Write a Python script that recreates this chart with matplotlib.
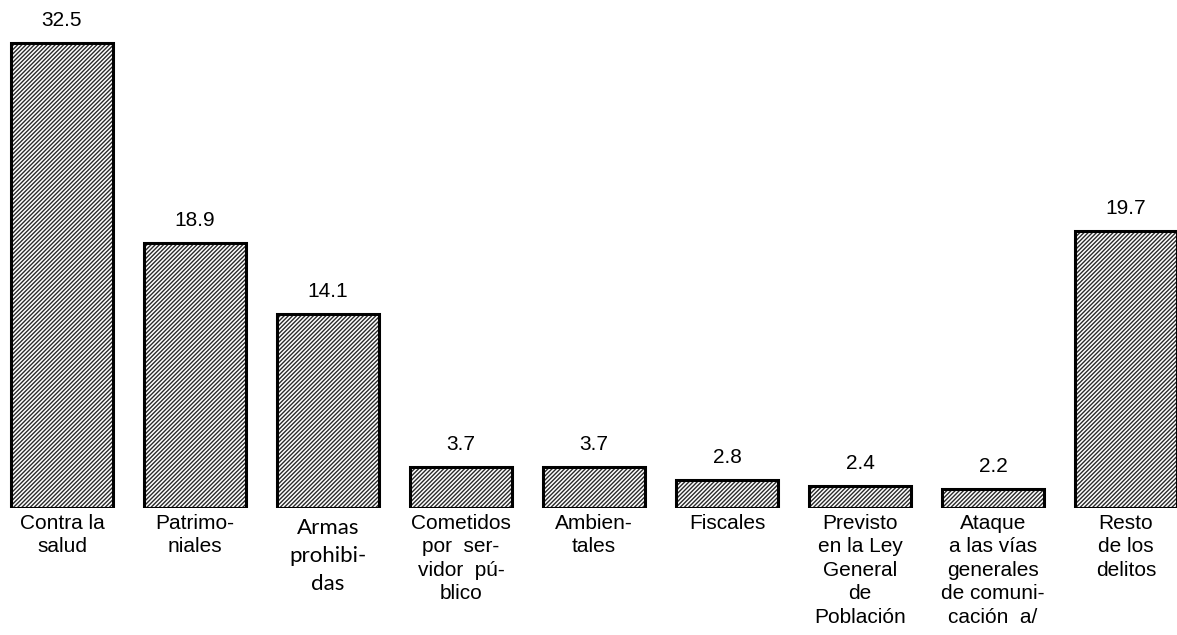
import matplotlib.pyplot as plt
import numpy as np

#  Data 
categories = [
    "Contra la\nsalud",
    "Patrimo-\nniales",
    "Armas\nprohibi-\ndas",
    "Cometidos\npor  ser-\nvidor  pú-\nblico",
    "Ambien-\ntales",
    "Fiscales",
    "Previsto\nen la Ley\nGeneral\nde\nPoblación",
    "Ataque\na las vías\ngenerales\nde comuni-\ncación  a/",
    "Resto\nde los\ndelitos",
]
values = [32.5, 18.9, 14.1, 3.7, 3.7, 2.8, 2.4, 2.2, 19.7]
value_labels = ["32.5", "18.9", "14.1", "3.7", "3.7", "2.8", "2.4", "2.2", "19.7"]

#  Style 
plt.rcParams["font.family"] = ["Liberation Sans", "DejaVu Sans"]
plt.rcParams["hatch.linewidth"] = 1.0
plt.rcParams["hatch.color"] = "#2a2a2a"

base = 0.91
x = np.arange(len(values))

fig = plt.figure(figsize=(11.77, 6.35), dpi=100)
ax = fig.add_axes([0, 0.2, 1, 0.8])

heights = [v - base for v in values]
# hatched fill, then the black outline on top
ax.bar(x, heights, bottom=base, width=0.77, color="white",
       edgecolor="#2a2a2a", linewidth=0, hatch="////////")
ax.bar(x, heights, bottom=base, width=0.77, color="none",
       edgecolor="black", linewidth=2.2)

for xi, v, lab in zip(x, values, value_labels):
    ax.annotate(lab, (xi, v), xytext=(0, 9.5), textcoords="offset points",
                ha="center", va="bottom", fontsize=15)

# category labels under the bars (one of them is set in another font)
for i, (xi, cat) in enumerate(zip(x, categories)):
    if i == 2:
        ax.annotate(cat, (xi, base), xytext=(0, -7), textcoords="offset points",
                    ha="center", va="top", fontsize=16, linespacing=1.5,
                    family=["Lato", "DejaVu Sans"], annotation_clip=False)
    else:
        ax.annotate(cat, (xi, base), xytext=(0, -4), textcoords="offset points",
                    ha="center", va="top", fontsize=15, linespacing=1.3,
                    annotation_clip=False)

ax.set_xlim(-0.466, 8.383)
ax.set_ylim(base, base + 508 / 14.72)
ax.set_xticks([])
ax.set_yticks([])
for s in ax.spines.values():
    s.set_visible(False)

plt.savefig("out.png", dpi=100)
plt.close()
